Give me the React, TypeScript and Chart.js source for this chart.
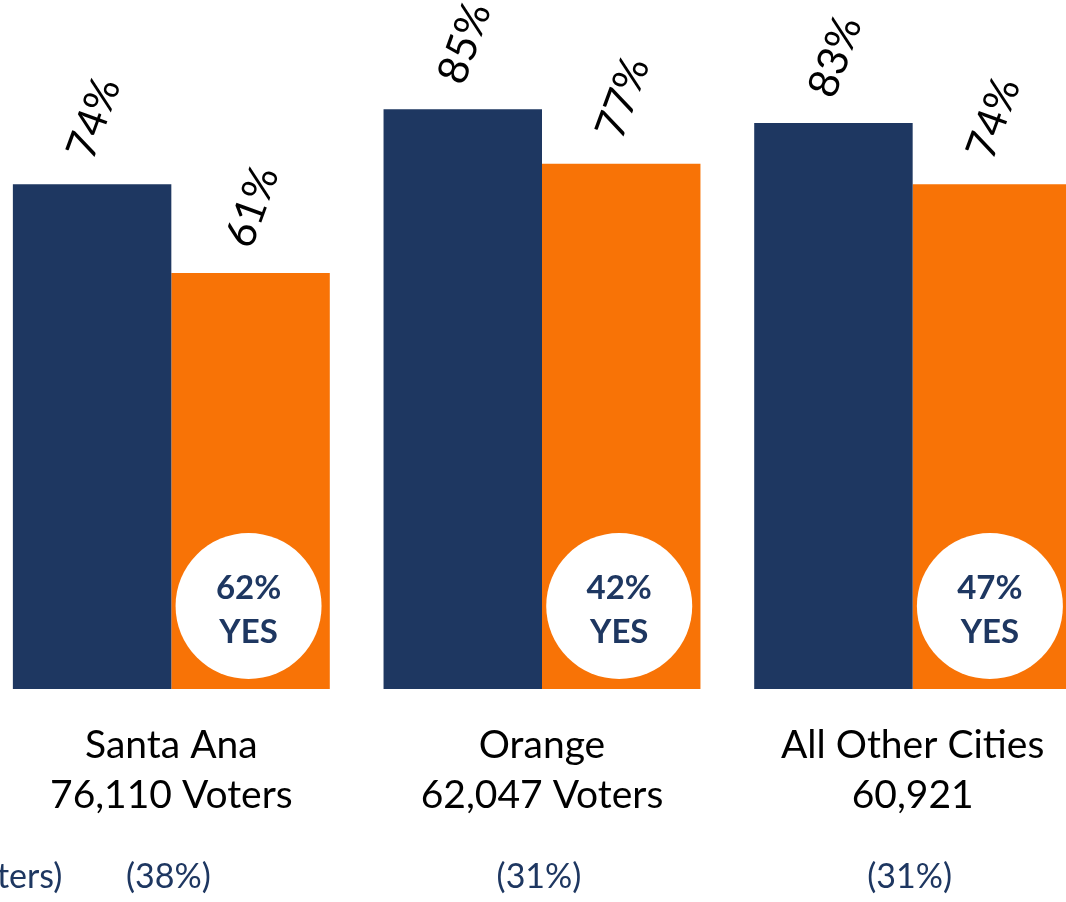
import React, { useEffect, useRef } from "react";
import { Chart, registerables } from "chart.js";

Chart.register(...registerables);

const categories = ["Santa Ana", "Orange", "All Other Cities"];
const voterCounts = ["76,110 Voters", "62,047 Voters", "60,921"];
const navyValues = [74, 85, 83];
const orangeValues = [61, 77, 74];
const yesShares = [62, 42, 47];
const voterShares = [38, 31, 31];
const totalLabel = "(199,078 Voters)";

const NAVY = "#1E3761";
const ORANGE = "#F87306";
const FONT = "Lato, 'Open Sans', sans-serif";

const CANVAS_W = 1180;
const CANVAS_H = 902;
const SHIFT = 40;

const overlayPlugin = {
  id: "overlay",
  afterDatasetsDraw(chart: any) {
    const ctx = chart.ctx;
    const area = chart.chartArea;
    const xScale = chart.scales.x;
    const base = area.bottom;

    // rotated value labels
    chart.data.datasets.forEach((ds: any, di: number) => {
      const meta = chart.getDatasetMeta(di);
      meta.data.forEach((bar: any, i: number) => {
        ctx.save();
        ctx.translate(bar.x + 2, bar.y - 66);
        ctx.rotate((-70 * Math.PI) / 180);
        ctx.font = `42px ${FONT}`;
        ctx.fillStyle = "#000";
        ctx.textAlign = "center";
        ctx.textBaseline = "middle";
        ctx.fillText(`${ds.data[i]}%`, 0, 0);
        ctx.restore();
      });
    });

    // circles on second series
    const meta1 = chart.getDatasetMeta(1);
    meta1.data.forEach((bar: any, i: number) => {
      const cx = bar.x - 2;
      const cy = base - 83;
      ctx.save();
      ctx.beginPath();
      ctx.arc(cx, cy, 73, 0, Math.PI * 2);
      ctx.fillStyle = "#fff";
      ctx.fill();
      ctx.fillStyle = NAVY;
      ctx.font = `bold 33px ${FONT}`;
      ctx.textAlign = "center";
      ctx.textBaseline = "middle";
      ctx.fillText(`${yesShares[i]}%`, cx, cy - 18);
      ctx.fillText("YES", cx, cy + 26);
      ctx.restore();
    });

    // category labels
    ctx.save();
    ctx.textAlign = "center";
    ctx.textBaseline = "alphabetic";
    categories.forEach((c, i) => {
      const x = xScale.getPixelForValue(i);
      ctx.fillStyle = "#000";
      ctx.font = `39px ${FONT}`;
      ctx.fillText(c, x, base + 69);
      ctx.fillText(voterCounts[i], x, base + 119);
      ctx.fillStyle = NAVY;
      ctx.font = `34px ${FONT}`;
      ctx.fillText(`(${voterShares[i]}%)`, x - 3, base + 199);
    });
    ctx.fillStyle = NAVY;
    ctx.font = `34px ${FONT}`;
    ctx.textAlign = "right";
    ctx.fillText(totalLabel, xScale.getPixelForValue(0) - 109, base + 199);
    ctx.restore();
  },
};

export default function App() {
  const ref = useRef<HTMLCanvasElement | null>(null);

  useEffect(() => {
    if (!ref.current) return;
    const chart = new Chart(ref.current, {
      type: "bar",
      data: {
        labels: categories,
        datasets: [
          {
            label: "Series 1",
            data: navyValues,
            backgroundColor: NAVY,
            borderWidth: 0,
            categoryPercentage: 0.855,
            barPercentage: 1,
          },
          {
            label: "Series 2",
            data: orangeValues,
            backgroundColor: ORANGE,
            borderWidth: 0,
            categoryPercentage: 0.855,
            barPercentage: 1,
          },
        ],
      },
      options: {
        responsive: false,
        animation: false,
        devicePixelRatio: 1,
        layout: { padding: { left: 26, right: 42, top: 7, bottom: 213 } },
        scales: {
          x: { display: false },
          y: { display: false, min: 0, max: 100 },
        },
        plugins: {
          legend: { display: false },
          tooltip: { enabled: false },
        },
      },
      plugins: [overlayPlugin],
    });
    return () => chart.destroy();
  }, []);

  return (
    <div
      style={{
        position: "fixed",
        left: 0,
        top: 0,
        width: 1066,
        height: 902,
        overflow: "hidden",
        background: "#fff",
      }}
    >
      <canvas
        ref={ref}
        width={CANVAS_W}
        height={CANVAS_H}
        style={{ position: "absolute", left: -SHIFT, top: 0, width: CANVAS_W, height: CANVAS_H }}
      />
    </div>
  );
}
